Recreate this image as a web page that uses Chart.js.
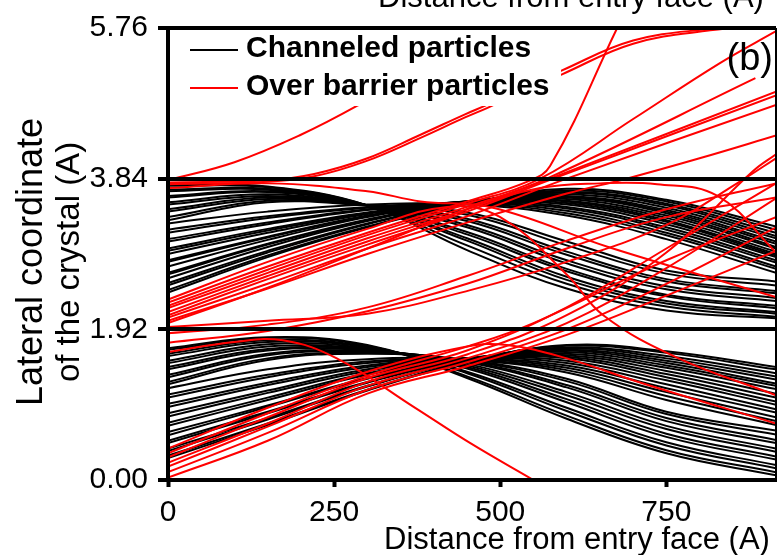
<!DOCTYPE html>
<html lang="en">
<head>
<meta charset="UTF-8">
<title>Channeled vs over barrier trajectories</title>
<script src="https://cdn.jsdelivr.net/npm/chart.js"></script>
<style>
    html, body { margin: 0; padding: 0; background: #fff; }
    #wrap { width: 778px; height: 555px; }
</style>
</head>
<body>
<div id="wrap"><canvas id="chart" width="778" height="555"></canvas></div>
<script>
// sample depths (A) shared by the channeled trajectories
const xSteps = [0, 150, 300, 450, 600, 750, 915];

// upper channel (1.92 - 3.84), particles starting low and rising
const upperRise = [
    [2.39, 2.84, 3.22, 3.52, 3.71, 3.57, 3.23],
    [2.42, 2.86, 3.23, 3.52, 3.69, 3.55, 3.19],
    [2.48, 2.90, 3.26, 3.53, 3.67, 3.52, 3.15],
    [2.51, 2.92, 3.27, 3.53, 3.66, 3.50, 3.11],
    [2.57, 2.97, 3.30, 3.54, 3.64, 3.47, 3.08],
    [2.62, 3.00, 3.31, 3.54, 3.62, 3.44, 3.04],
    [2.64, 3.01, 3.32, 3.54, 3.61, 3.42, 3.01],
    [2.72, 3.06, 3.35, 3.55, 3.60, 3.40, 2.97],
    [2.78, 3.09, 3.36, 3.55, 3.58, 3.37, 2.95],
    [2.80, 3.10, 3.37, 3.55, 3.56, 3.34, 2.91],
    [2.88, 3.15, 3.39, 3.55, 3.55, 3.31, 2.88],
    [2.92, 3.18, 3.40, 3.55, 3.53, 3.29, 2.86],
    [2.95, 3.20, 3.41, 3.54, 3.51, 3.26, 2.84],
    [3.04, 3.26, 3.44, 3.54, 3.48, 3.22, 2.80],
    [3.07, 3.28, 3.45, 3.53, 3.46, 3.19, 2.77],
    [3.15, 3.34, 3.47, 3.53, 3.43, 3.15, 2.72],
    [3.19, 3.36, 3.48, 3.52, 3.40, 3.12, 2.69],
    [3.27, 3.42, 3.51, 3.51, 3.37, 3.07, 2.64]
];
// upper channel, particles starting high and falling
const upperFall = [
    [3.77, 3.74, 3.50, 2.93, 2.44, 2.16, 2.06],
    [3.75, 3.73, 3.50, 2.99, 2.50, 2.21, 2.08],
    [3.70, 3.71, 3.50, 3.05, 2.55, 2.25, 2.12],
    [3.68, 3.70, 3.50, 3.08, 2.59, 2.28, 2.14],
    [3.62, 3.68, 3.50, 3.13, 2.66, 2.34, 2.19],
    [3.60, 3.67, 3.50, 3.16, 2.69, 2.36, 2.22],
    [3.54, 3.64, 3.50, 3.22, 2.76, 2.43, 2.28],
    [3.51, 3.62, 3.50, 3.25, 2.80, 2.47, 2.32],
    [3.45, 3.60, 3.50, 3.30, 2.87, 2.53, 2.38],
    [3.42, 3.58, 3.50, 3.33, 2.91, 2.56, 2.41],
    [3.35, 3.56, 3.50, 3.38, 2.99, 2.63, 2.48],
    [3.31, 3.54, 3.50, 3.41, 3.04, 2.67, 2.53]
];
// lower channel (0 - 1.92)
const lowerRise = [
    [0.28, 0.70, 1.14, 1.50, 1.72, 1.64, 1.44],
    [0.31, 0.72, 1.15, 1.51, 1.71, 1.62, 1.41],
    [0.37, 0.77, 1.19, 1.52, 1.69, 1.58, 1.36],
    [0.40, 0.79, 1.20, 1.53, 1.68, 1.55, 1.32],
    [0.47, 0.85, 1.24, 1.53, 1.66, 1.52, 1.28],
    [0.50, 0.87, 1.25, 1.54, 1.65, 1.49, 1.23],
    [0.57, 0.93, 1.29, 1.54, 1.63, 1.46, 1.20],
    [0.61, 0.95, 1.30, 1.55, 1.61, 1.43, 1.16],
    [0.69, 1.02, 1.34, 1.55, 1.59, 1.39, 1.10],
    [0.73, 1.05, 1.36, 1.55, 1.57, 1.35, 1.05],
    [0.81, 1.11, 1.39, 1.55, 1.55, 1.31, 1.00],
    [0.85, 1.14, 1.41, 1.55, 1.52, 1.27, 0.96],
    [0.93, 1.21, 1.44, 1.55, 1.49, 1.22, 0.90],
    [0.97, 1.24, 1.46, 1.54, 1.46, 1.17, 0.86],
    [1.05, 1.31, 1.49, 1.54, 1.43, 1.12, 0.80],
    [1.09, 1.34, 1.51, 1.53, 1.40, 1.07, 0.75],
    [1.17, 1.41, 1.54, 1.53, 1.37, 1.02, 0.70]
];
const lowerFall = [
    [1.68, 1.82, 1.72, 1.30, 0.78, 0.34, 0.06],
    [1.66, 1.81, 1.71, 1.32, 0.82, 0.38, 0.10],
    [1.61, 1.78, 1.70, 1.36, 0.88, 0.44, 0.15],
    [1.58, 1.76, 1.69, 1.38, 0.92, 0.48, 0.19],
    [1.52, 1.73, 1.68, 1.42, 0.99, 0.55, 0.26],
    [1.49, 1.70, 1.67, 1.44, 1.03, 0.59, 0.30],
    [1.44, 1.67, 1.66, 1.46, 1.08, 0.65, 0.36],
    [1.41, 1.65, 1.65, 1.48, 1.12, 0.69, 0.40],
    [1.34, 1.61, 1.64, 1.50, 1.18, 0.75, 0.47],
    [1.31, 1.59, 1.63, 1.51, 1.21, 0.79, 0.51],
    [1.25, 1.55, 1.62, 1.52, 1.26, 0.84, 0.58],
    [1.22, 1.53, 1.61, 1.53, 1.29, 0.87, 0.63]
];

// over barrier trajectories, [depth, lateral] pairs
const overBarrierPaths = [
    [[0, 0.03], [150, 0.50], [300, 1.10], [450, 1.45], [600, 1.85], [750, 2.35], [915, 2.92]],
    [[0, 0.10], [150, 0.60], [300, 1.15], [450, 1.50], [600, 1.92], [750, 2.50], [915, 3.22]],
    [[0, 0.17], [150, 0.68], [300, 1.20], [450, 1.55], [600, 2.00], [750, 2.70], [915, 3.59]],
    [[0, 0.22], [150, 0.72], [300, 1.25], [450, 1.60], [600, 2.10], [750, 2.90], [881, 3.94], [915, 4.15]],
    [[0, 0.29], [150, 0.80], [300, 1.30], [450, 1.65], [600, 2.20], [750, 2.95], [915, 3.78]],
    [[0, 0.34], [150, 0.85], [300, 1.33], [450, 1.70], [550, 2.00], [750, 2.80], [915, 3.35]],
    [[0, 0.40], [150, 0.92], [300, 1.38], [450, 1.70], [510, 1.72], [600, 1.55], [715, 1.23], [915, 0.72]],
    [[0, 1.63], [100, 1.76], [173, 1.78], [254, 1.55], [372, 0.92], [455, 0.47], [550, 0.00]],
    [[0, 1.87], [150, 1.98], [300, 2.20], [450, 2.60], [600, 3.05], [750, 3.45], [915, 3.78]],
    [[0, 1.75], [150, 1.90], [300, 2.15], [450, 2.50], [600, 2.95], [750, 3.35], [915, 3.60]],
    [[0, 1.95], [150, 2.03], [300, 2.12], [455, 2.42], [600, 2.78], [750, 3.25], [860, 3.80], [915, 4.10]],
    [[0, 2.26], [150, 2.72], [300, 3.15], [450, 3.55], [540, 3.80], [575, 4.00], [676, 5.76], [690, 6.00]],
    [[0, 2.22], [150, 2.68], [300, 3.12], [450, 3.52], [560, 3.84], [700, 4.60], [830, 5.31], [915, 5.72]],
    [[0, 2.19], [150, 2.64], [300, 3.08], [450, 3.48], [570, 3.84], [884, 5.12]],
    [[0, 2.14], [150, 2.60], [300, 3.04], [450, 3.45], [575, 3.84], [915, 4.95]],
    [[0, 2.10], [150, 2.56], [300, 3.00], [450, 3.42], [580, 3.84], [915, 4.90]],
    [[0, 2.07], [150, 2.50], [300, 2.95], [450, 3.36], [600, 3.84], [915, 4.78]],
    [[0, 2.03], [150, 2.44], [300, 2.88], [450, 3.28], [600, 3.65], [690, 3.84], [800, 4.10], [915, 4.39]],
    [[0, 2.30], [150, 2.78], [300, 3.20], [420, 3.48], [500, 3.35], [600, 2.62], [655, 2.10], [766, 1.56], [915, 1.08]],
    [[0, 3.72], [150, 3.78], [300, 3.68], [380, 3.55], [489, 3.47], [666, 2.96], [915, 2.33]],
    [[0, 2.00], [150, 2.45], [300, 2.95], [450, 3.45], [560, 3.72], [650, 3.78], [736, 3.77], [827, 3.62], [915, 2.90]],
    [[0, 3.82], [100, 4.05], [200, 4.40], [285, 4.77], [360, 5.15], [430, 5.60], [460, 5.85]],
    [[0, 3.79], [150, 3.82], [220, 3.90], [297, 4.09], [380, 4.40], [447, 4.66], [480, 4.78], [593, 5.22], [700, 5.60], [816, 5.75], [915, 5.82]],
    [[0, 3.77], [150, 3.80], [220, 3.87], [297, 4.06], [380, 4.36], [447, 4.62], [480, 4.74], [593, 5.17], [700, 5.56], [816, 5.73], [915, 5.80]]
];

const xTicks = [0, 250, 500, 750];
const yTicks = [0, 1.92, 3.84, 5.76];
const legendLabels = ['Channeled particles', 'Over barrier particles'];
const legendColors = ['#000000', '#ff0000'];
const xTitle = 'Distance from entry face (A)';
const yTitle = ['Lateral coordinate', 'of the crystal (A)'];
const panelTag = '(b)';

const FONT = "'Liberation Sans', Arial, sans-serif";

function lineSet(rows, color) {
    return rows.map(r => ({
        data: r.map((y, i) => ({ x: xSteps[i], y: y })),
        borderColor: color,
        borderWidth: 2,
        pointRadius: 0,
        tension: 0.4,
        fill: false
    }));
}

let datasets = [];
// red first so it ends up drawn on top
overBarrierPaths.forEach(p => {
    datasets.push({
        data: p.map(([x, y]) => ({ x: x, y: y })),
        borderColor: legendColors[1],
        borderWidth: 2,
        pointRadius: 0,
        tension: 0.4,
        fill: false
    });
});
datasets = datasets.concat(lineSet(upperRise, legendColors[0]), lineSet(upperFall, legendColors[0]),
    lineSet(lowerRise, legendColors[0]), lineSet(lowerFall, legendColors[0]));

const decor = {
    id: 'decor',
    afterDatasetsDraw(chart) {
        const ctx = chart.ctx;
        const a = chart.chartArea;
        ctx.save();
        // legend box covers the trajectories under it
        ctx.fillStyle = '#fff';
        ctx.fillRect(a.left + 3, a.top + 2, 390, 76);
        ctx.lineWidth = 2;
        ctx.font = 'bold 30px ' + FONT;
        ctx.textBaseline = 'middle';
        ctx.textAlign = 'left';
        legendLabels.forEach((t, i) => {
            const y = 50 + i * 38;
            ctx.strokeStyle = legendColors[i];
            ctx.beginPath();
            ctx.moveTo(190, y);
            ctx.lineTo(238, y);
            ctx.stroke();
            ctx.fillStyle = '#000';
            ctx.fillText(t, 246, y - 1);
        });
        ctx.font = '38px ' + FONT;
        ctx.textAlign = 'right';
        ctx.fillText(panelTag, 773, 60);
        ctx.restore();
    },
    afterDraw(chart) {
        const ctx = chart.ctx;
        const a = chart.chartArea;
        ctx.save();
        // right frame edge
        ctx.strokeStyle = '#000';
        ctx.lineWidth = 2;
        ctx.beginPath();
        ctx.moveTo(a.right, a.top);
        ctx.lineTo(a.right, a.bottom);
        ctx.stroke();
        ctx.fillStyle = '#000';
        ctx.font = '31px ' + FONT;
        ctx.textAlign = 'center';
        ctx.textBaseline = 'alphabetic';
        ctx.fillText(xTitle, 577, 549);
        ctx.fillText(xTitle, 571, 7);
        ctx.translate(0, 262);
        ctx.rotate(-Math.PI / 2);
        ctx.font = '36px ' + FONT;
        ctx.fillText(yTitle[0], 0, 42);
        ctx.font = '33px ' + FONT;
        ctx.fillText(yTitle[1], 0, 79);
        ctx.restore();
    }
};

new Chart(document.getElementById('chart'), {
    type: 'line',
    data: { datasets: datasets },
    plugins: [decor],
    options: {
        responsive: false,
        animation: false,
        events: [],
        layout: { padding: { top: 28, right: 2, left: 0, bottom: 0 } },
        plugins: { legend: { display: false }, tooltip: { enabled: false } },
        scales: {
            x: {
                type: 'linear',
                min: 0,
                max: 915,
                afterBuildTicks: s => { s.ticks = xTicks.map(v => ({ value: v })); },
                afterFit: s => { s.height = 75; },
                ticks: { color: '#000', font: { family: FONT, size: 30 }, padding: 8, maxRotation: 0 },
                grid: { drawOnChartArea: false, drawTicks: true, tickLength: 7, tickWidth: 4, tickColor: '#000' },
                border: { color: '#000', width: 4, z: 2 }
            },
            y: {
                type: 'linear',
                min: 0,
                max: 5.76,
                afterBuildTicks: s => { s.ticks = yTicks.map(v => ({ value: v })); },
                afterFit: s => { s.width = 168; },
                ticks: { color: '#000', font: { family: FONT, size: 30 }, padding: 10, callback: v => v.toFixed(2) },
                grid: { color: '#000', lineWidth: 4, tickLength: 10, z: 1 },
                border: { color: '#000', width: 4, z: 2 }
            }
        }
    }
});
</script>
</body>
</html>
